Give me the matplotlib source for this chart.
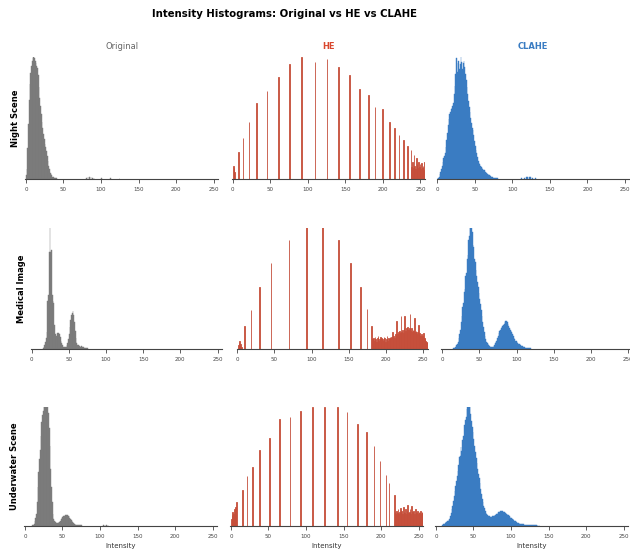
import numpy as np
import matplotlib.pyplot as plt

# intensity bins and bar heights (percent of visible axis height)
# --- Night Scene ---
night_orig_bins = list(range(0, 41)) + [80, 82, 84, 86, 88, 90, 100, 106, 112, 118, 124, 130]
night_orig_counts = [3, 8, 25, 45, 65, 78, 87, 93, 97, 99,
                     100, 99, 97, 95, 93, 91, 85, 75, 66, 60,
                     53, 47, 42, 37, 33, 29, 26, 23, 19, 15,
                     11, 8, 5, 4, 3, 2, 1.5, 1.2, 1, 0.8, 0.7] + \
                    [1, 1.8, 2, 1.6, 1, 0.6, 0.5, 0.4, 0.5, 0.4, 0.3, 0.3]

night_he_bins = [0, 1, 2, 7, 13, 21, 31, 45, 60, 75, 91, 109, 125, 140, 155, 168, 180, 189,
                 199, 208, 215, 221, 227, 232, 237] + list(range(238, 256))
night_he_counts = [11, 9, 6, 22, 34, 47, 62, 72, 84, 94, 100, 96, 98, 92, 85, 74, 69, 59,
                   57, 47, 42, 36, 32, 27, 24] + \
                  [10, 14, 9, 20, 11, 8, 17, 12, 9, 14, 10, 12, 8, 13, 9, 11, 7, 14]

night_clahe_bins = list(range(0, 81)) + [112, 116, 118, 120, 122, 124, 126, 130]
night_clahe_counts = [0, 1, 2, 4, 6, 8, 11, 14, 17, 19,
                      21, 26, 32, 38, 44, 49, 53, 55, 57, 58,
                      60, 62, 70, 76, 86, 99, 88, 95, 97, 90,
                      94, 100, 96, 90, 95, 97, 92, 86, 81, 75,
                      70, 64, 59, 55, 50, 46, 42, 40, 36, 31,
                      27, 24, 21, 18, 15, 13, 12, 11, 10, 9,
                      8, 7.5, 7, 6, 5.5, 5, 4.5, 4, 3.5, 3,
                      2.5, 2, 1.8, 1.5, 1.2, 1, 0.9, 0.8, 0.7, 0.6, 0.5] + \
                     [0.5, 1, 1.5, 2, 1.8, 1.5, 1, 0.5]

# --- Medical Image ---
med_orig_bins = list(range(15, 76))
med_orig_counts = [1, 2, 3, 6, 9, 14, 40, 45, 80, 140,
                   80, 82, 45, 40, 38, 20, 12, 10, 11, 13,
                   12, 13, 12, 10, 7, 5, 3, 2, 1.5, 1.5,
                   1.5, 2, 3, 5, 8, 12, 18, 24, 28, 30,
                   31, 28, 22, 15, 9, 5, 3.5, 3, 2.5, 2.5,
                   2, 2.5, 2, 1.5, 1.5, 1.2, 1, 1, 0.8, 0.7, 0.6]

med_he_bins = [1, 2, 3, 4, 5, 9, 18, 29, 45, 69, 93, 114, 136, 152, 165, 174, 180] + list(range(181, 256))
med_he_counts = [3, 5, 7, 4, 2, 19, 32, 51, 71, 90, 140, 140, 90, 71, 51, 33, 19] + \
                [8, 6, 9, 7, 10, 8, 6, 9, 11, 7, 8, 10, 6, 9, 8, 7, 10, 9, 6, 8, 11, 7, 9, 8, 10] + \
                [9, 10, 14, 10, 11, 9, 12, 10, 23, 12,
                 14, 11, 15, 13, 27, 14, 16, 13, 17, 27,
                 15, 17, 14, 18, 16, 17, 29, 15, 17, 14,
                 16, 15, 26, 14, 15, 12, 14, 20, 12, 13,
                 11, 12, 10, 11, 13, 9, 8, 7, 6, 5]

med_clahe_bins = list(range(15, 119))
med_clahe_counts = [0.5, 1, 1.5, 2, 3, 4, 6, 9, 12, 16,
                    22, 27, 35, 38, 47, 50, 60, 63, 74, 78,
                    90, 93, 112, 125, 100, 97, 86, 84, 74, 72,
                    65, 60, 55, 51, 46, 41, 37, 32, 27, 22,
                    18, 14, 11, 8, 6, 5, 4, 3, 2.5, 2,
                    1.5, 1.5, 1.5, 2, 2.5, 3.5, 5, 6, 7, 9,
                    11, 13, 15, 16, 17, 18, 19, 20, 21, 22,
                    23, 23, 22, 21, 19, 17, 16, 15, 14, 12,
                    11, 9, 8, 7, 6.5, 6, 5, 4.5, 4, 3.5,
                    3, 2.5, 2.2, 2, 2, 1.5, 1.2, 1, 0.9, 0.8,
                    0.7, 0.6, 0.5, 0.5]

# --- Underwater Scene ---
uw_orig_bins = list(range(10, 76)) + [104, 106, 108, 110]
uw_orig_counts = [0.5, 1, 2, 4, 7, 10, 20, 33, 45, 56,
                  64, 76, 87, 93, 97, 105, 130, 140, 125, 110,
                  100, 95, 82, 67, 48, 33, 20, 10, 6, 4,
                  3, 2.5, 2.5, 2.5, 2.5, 3, 3.5, 4.5, 5.5, 6.5,
                  7.5, 8, 8.5, 9, 9, 9.5, 9, 8.5, 8, 7,
                  6, 5, 4, 3, 2.5, 2, 1.5, 1.2, 1, 1,
                  0.8, 0.7, 0.6, 0.6, 0.5, 0.5] + [0.6, 1, 0.8, 0.5]

uw_he_bins = list(range(0, 8)) + [15, 21, 28, 38, 51, 64, 78, 92, 108, 124, 141, 154, 168, 180,
                                  190, 198, 206, 210, 217] + list(range(218, 256))
uw_he_counts = [6, 9, 12, 10, 14, 12, 16, 20] + \
               [30, 42, 50, 64, 74, 90, 92, 97, 100, 100, 100, 96, 86, 79, 67, 55, 43, 36, 26] + \
               [12, 10, 13, 11, 14, 10, 12, 15, 11, 13,
                10, 16, 12, 11, 14, 10, 13, 18, 11, 12,
                14, 10, 17, 12, 11, 13, 10, 14, 12, 11,
                13, 10, 12, 11, 13, 10, 12, 11]

uw_clahe_bins = list(range(8, 138))
uw_clahe_counts = [0.5, 1, 1.5, 2, 2.5, 3, 3.5, 4, 4.5, 5,
                   5.5, 8, 11, 14, 17, 21, 25, 29, 34, 38,
                   42, 46, 51, 58, 59, 66, 63, 72, 76, 73,
                   85, 89, 92, 98, 101, 112, 104, 103, 94, 88,
                   83, 79, 73, 67, 62, 57, 53, 48, 44, 40,
                   36, 31, 27, 23, 20, 17, 15, 13, 11, 10,
                   9, 8.5, 8, 8, 7.5, 7.5, 7.5, 8, 8, 8.5,
                   9, 9.5, 10, 10.5, 11, 11.5, 12, 12.5, 12.5, 13,
                   12.5, 12, 12, 11.5, 11, 10.5, 10, 9.5, 9, 8.5,
                   7.5, 7, 6.5, 6, 5.5, 5, 4.5, 4, 3.5, 3,
                   2.8, 2.5, 2.3, 2, 1.8, 1.6, 1.5, 1.4, 1.3, 1.2,
                   1.1, 1, 1, 0.9, 0.9, 0.8, 0.8, 0.7, 0.7, 0.7,
                   0.6, 0.6, 0.6, 0.5, 0.5, 0.5, 0.5, 0.4, 0.4, 0.4]

row_names = ['Night Scene', 'Medical Image', 'Underwater Scene']
col_names = ['Original', 'HE', 'CLAHE']
panels = [
    [(night_orig_bins, night_orig_counts), (night_he_bins, night_he_counts), (night_clahe_bins, night_clahe_counts)],
    [(med_orig_bins, med_orig_counts), (med_he_bins, med_he_counts), (med_clahe_bins, med_clahe_counts)],
    [(uw_orig_bins, uw_orig_counts), (uw_he_bins, uw_he_counts), (uw_clahe_bins, uw_clahe_counts)],
]

bar_colors = ['#7f7f7f', '#d9603b', '#3a7cc2']
edge_colors = ['#7a7a7a', '#c44d3a', '#3a7cc2']
edge_widths = [0.3, 0.6, 0.3]
title_colors = ['#666666', '#d9482f', '#3a7cc2']
title_weights = ['normal', 'bold', 'bold']

# layout in pixels (figure is 630 x 554)
W, H = 630, 554
row_top = [57, 228, 407]
row_bot = [179, 349, 526]
col_left = [[25.2, 232, 436.5], [31, 236.5, 441.5], [24.2, 230.2, 435.2]]
col_width = [193, 191, 193]

fig = plt.figure(figsize=(6.3, 5.54), dpi=100)
fig.text(284 / W, 1 - 14 / H, 'Intensity Histograms: Original vs HE vs CLAHE',
         ha='center', va='center', fontsize=7.3, fontweight='bold')

for r in range(3):
    for c in range(3):
        left = col_left[r][c] / W
        bottom = 1 - row_bot[r] / H
        ax = fig.add_axes([left, bottom, col_width[r] / W, (row_bot[r] - row_top[r]) / H])
        bins, counts = panels[r][c]
        ax.bar(bins, counts, width=1.0, align='edge', color=bar_colors[c],
               edgecolor=edge_colors[c], linewidth=edge_widths[c])
        ax.set_xlim(-1, 256)
        ax.set_ylim(0, 100)
        ax.set_yticks([])
        ax.set_xticks([0, 50, 100, 150, 200, 250])
        for s in ['top', 'right', 'left']:
            ax.spines[s].set_visible(False)
        ax.spines['bottom'].set_color('#444444')
        ax.spines['bottom'].set_linewidth(0.8)
        ax.tick_params(axis='x', labelsize=4, length=3, width=0.6, pad=3,
                       color='#444444', labelcolor='#444444')
        if r == 0:
            ax.set_title(col_names[c], fontsize=6, color=title_colors[c],
                         fontweight=title_weights[c], pad=6)
        if r == 2:
            ax.set_xlabel('Intensity', fontsize=5, labelpad=2.5, color='#333333')
        if c == 0:
            fig.text((col_left[r][0] - 10) / W, 1 - (row_top[r] + row_bot[r]) / 2 / H,
                     row_names[r], rotation=90, ha='center', va='center',
                     fontsize=6, fontweight='bold')

fig.savefig('out.png', dpi=100)
